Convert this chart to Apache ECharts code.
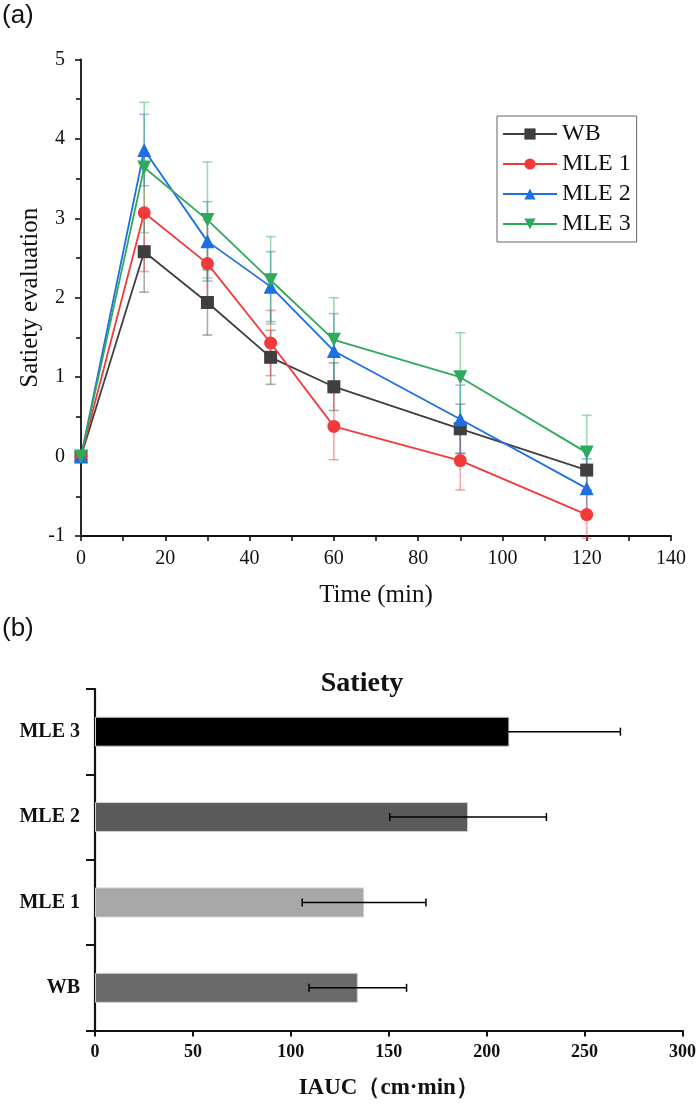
<!DOCTYPE html>
<html>
<head>
<meta charset="utf-8">
<script src="https://cdn.jsdelivr.net/npm/echarts@6/dist/echarts.min.js"></script>
<style>
html,body{margin:0;padding:0;background:#fff;}
#chart{width:700px;height:1105px;}
</style>
</head>
<body>
<div id="chart"></div>
<script>
// ---- Data: panel (a) ----
const times = [0, 15, 30, 45, 60, 90, 120];
const seriesNames = ['WB', 'MLE 1', 'MLE 2', 'MLE 3'];
const wbVals   = [0, 2.58, 1.94, 1.25, 0.88, 0.35, -0.17];
const wbErr    = [0, 0.51, 0.41, 0.34, 0.30, 0.31, 0.25];
const mle1Vals = [0, 3.07, 2.43, 1.43, 0.38, -0.05, -0.73];
const mle1Err  = [0, 0.74, 0.55, 0.41, 0.42, 0.37, 0.30];
const mle2Vals = [0, 3.86, 2.71, 2.14, 1.33, 0.47, -0.40];
const mle2Err  = [0, 0.45, 0.50, 0.44, 0.47, 0.43, 0.37];
const mle3Vals = [0, 3.64, 2.98, 2.22, 1.47, 1.00, 0.05];
const mle3Err  = [0, 0.82, 0.73, 0.55, 0.53, 0.56, 0.47];
const yTicks = [-1, 0, 1, 2, 3, 4, 5];
const xTicks = [0, 20, 40, 60, 80, 100, 120, 140];

// ---- Data: panel (b) ----
const groups = ['WB', 'MLE 1', 'MLE 2', 'MLE 3'];
const iauc = [134.2, 137.4, 190.5, 211.6];
const iaucErr = [24.9, 31.6, 40.0, 56.7];
const iaucTicks = [0, 50, 100, 150, 200, 250, 300];

// ---- Styles ----
const lineColors = ['#3f3f3f', '#f23a3a', '#1d6fe3', '#2eaa5c'];
const errColors = ['rgba(70,70,70,0.45)', 'rgba(240,60,60,0.45)', 'rgba(30,110,225,0.45)', 'rgba(46,170,92,0.45)'];
const symbols = ['rect', 'circle', 'triangle', 'triangle'];
const symbolRot = [0, 0, 0, 180];
const symbolSizes = [13, 13, 14, 14];
const barColors = ['#6a6a6a', '#a8a8a8', '#5a5a5a', '#000000'];
const serif = '"Liberation Serif","DejaVu Serif",serif';

const allVals = [wbVals, mle1Vals, mle2Vals, mle3Vals];
const allErr = [wbErr, mle1Err, mle2Err, mle3Err];

const chart = echarts.init(document.getElementById('chart'), null, {renderer: 'canvas'});

function errRenderV(color) {
  return function (params, api) {
    const x = api.value(0), lo = api.value(1), hi = api.value(2);
    if (hi - lo <= 0) return null;
    const p1 = api.coord([x, lo]);
    const p2 = api.coord([x, hi]);
    const hw = 5;
    const st = {stroke: color, lineWidth: 1.6};
    return {type: 'group', children: [
      {type: 'line', shape: {x1: p1[0], y1: p1[1], x2: p2[0], y2: p2[1]}, style: st},
      {type: 'line', shape: {x1: p1[0] - hw, y1: p1[1], x2: p1[0] + hw, y2: p1[1]}, style: st},
      {type: 'line', shape: {x1: p2[0] - hw, y1: p2[1], x2: p2[0] + hw, y2: p2[1]}, style: st}
    ]};
  };
}

function errRenderH(params, api) {
  const cat = api.value(0), lo = api.value(1), hi = api.value(2);
  const p1 = api.coord([lo, cat]);
  const p2 = api.coord([hi, cat]);
  const hh = 4;
  const st = {stroke: '#000', lineWidth: 1.5};
  return {type: 'group', children: [
    {type: 'line', shape: {x1: p1[0], y1: p1[1], x2: p2[0], y2: p2[1]}, style: st},
    {type: 'line', shape: {x1: p1[0], y1: p1[1] - hh, x2: p1[0], y2: p1[1] + hh}, style: st},
    {type: 'line', shape: {x1: p2[0], y1: p2[1] - hh, x2: p2[0], y2: p2[1] + hh}, style: st}
  ]};
}

const series = [];
seriesNames.forEach(function (name, i) {
  series.push({
    type: 'custom',
    name: name + ' err',
    xAxisIndex: 0, yAxisIndex: 0,
    renderItem: errRenderV(errColors[i]),
    data: times.map(function (t, k) { return [t, allVals[i][k] - allErr[i][k], allVals[i][k] + allErr[i][k]]; }),
    z: 2,
    silent: true
  });
});
seriesNames.forEach(function (name, i) {
  series.push({
    type: 'line',
    name: name,
    xAxisIndex: 0, yAxisIndex: 0,
    data: times.map(function (t, k) { return [t, allVals[i][k]]; }),
    symbol: symbols[i],
    symbolRotate: symbolRot[i],
    symbolSize: symbolSizes[i],
    lineStyle: {color: lineColors[i], width: 1.8},
    itemStyle: {color: lineColors[i]},
    z: 3 + i
  });
});
series.push({
  type: 'bar',
  name: 'IAUC',
  xAxisIndex: 1, yAxisIndex: 1,
  data: iauc.map(function (v, k) { return {value: v, itemStyle: {color: barColors[k]}}; }),
  barWidth: 30,
  itemStyle: {borderColor: '#d0d0d0', borderWidth: 1},
  z: 2
});
series.push({
  type: 'custom',
  name: 'IAUC err',
  xAxisIndex: 1, yAxisIndex: 1,
  renderItem: errRenderH,
  data: groups.map(function (g, k) { return [k, iauc[k] - iaucErr[k], iauc[k] + iaucErr[k]]; }),
  encode: {x: [1, 2], y: 0},
  z: 3,
  silent: true
});

const axisLineBlack = {show: true, lineStyle: {color: '#111', width: 1.8}};

const option = {
  animation: false,
  backgroundColor: '#fff',
  grid: [
    {left: 81, top: 59.5, width: 590, height: 476.5},
    {left: 95, top: 689, width: 587.5, height: 341.5}
  ],
  legend: {
    data: seriesNames,
    orient: 'vertical',
    left: 497, top: 116,
    borderColor: '#666', borderWidth: 1,
    padding: [6, 6, 6, 5],
    itemGap: 6,
    itemWidth: 54, itemHeight: 14,
    textStyle: {fontFamily: serif, fontSize: 24, color: '#111', lineHeight: 24}
  },
  xAxis: [
    {
      type: 'value', gridIndex: 0, min: 0, max: 140, interval: 20,
      name: 'Time (min)', nameLocation: 'middle', nameGap: 47, nameMoveOverlap: false,
      nameTextStyle: {fontFamily: serif, fontSize: 25, color: '#111'},
      axisLine: Object.assign({onZero: false}, axisLineBlack),
      axisTick: {show: true, inside: false, length: 5, lineStyle: {color: '#111', width: 1.6}},
      minorTick: {show: true, splitNumber: 2, length: 5, lineStyle: {color: '#111', width: 1.6}},
      splitLine: {show: false},
      axisLabel: {fontFamily: serif, fontSize: 20, color: '#111', margin: 13}
    },
    {
      type: 'value', gridIndex: 1, min: 0, max: 300, interval: 50,
      name: 'IAUC（cm·min）', nameLocation: 'middle', nameGap: 46, nameMoveOverlap: false,
      nameTextStyle: {fontFamily: serif, fontSize: 23, fontWeight: 'bold', color: '#111'},
      axisLine: {show: true, onZero: false, lineStyle: {color: '#111', width: 2.2}},
      axisTick: {show: true, inside: false, length: 6, lineStyle: {color: '#111', width: 2}},
      splitLine: {show: false},
      axisLabel: {fontFamily: serif, fontSize: 18, fontWeight: 'bold', color: '#111', margin: 13}
    }
  ],
  yAxis: [
    {
      type: 'value', gridIndex: 0, min: -1, max: 5, interval: 1,
      name: 'Satiety evaluation', nameLocation: 'middle', nameGap: 38, nameMoveOverlap: false,
      nameTextStyle: {fontFamily: serif, fontSize: 25, color: '#111'},
      axisLine: axisLineBlack,
      axisTick: {show: true, inside: false, length: 6, lineStyle: {color: '#111', width: 1.6}},
      minorTick: {show: true, splitNumber: 2, length: 5, lineStyle: {color: '#111', width: 1.6}},
      splitLine: {show: false},
      axisLabel: {fontFamily: serif, fontSize: 20, color: '#111', margin: 16}
    },
    {
      type: 'category', gridIndex: 1, data: groups,
      axisLine: {show: true, onZero: false, lineStyle: {color: '#111', width: 2.2}},
      axisTick: {show: true, inside: false, length: 9, alignWithLabel: false, lineStyle: {color: '#111', width: 2}},
      splitLine: {show: false},
      axisLabel: {fontFamily: serif, fontSize: 20, fontWeight: 'bold', color: '#111', margin: 15}
    }
  ],
  graphic: [
    {type: 'text', left: 2, top: 3, style: {text: '(a)', font: '26px "Liberation Sans", Arial, sans-serif', fill: '#111'}},
    {type: 'text', left: 2, top: 616, style: {text: '(b)', font: '26px "Liberation Sans", Arial, sans-serif', fill: '#111'}},
    {type: 'text', x: 362, y: 684, style: {text: 'Satiety', font: 'bold 28px "Liberation Serif", serif', fill: '#111', textAlign: 'center', textVerticalAlign: 'middle'}}
  ],
  series: series
};

chart.setOption(option);
</script>
</body>
</html>
